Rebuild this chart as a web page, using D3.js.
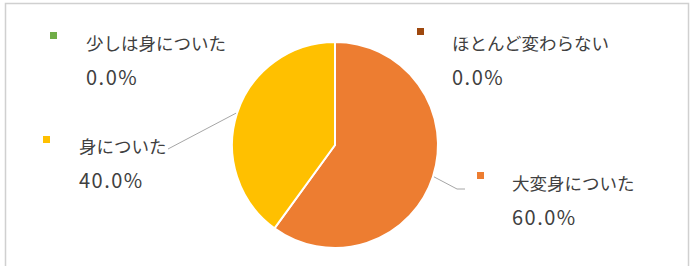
<!doctype html>
<html>
<head>
<meta charset="UTF-8" />
<style>
  html, body { margin: 0; padding: 0; background: #fff; }
  svg { display: block; font-family: "Noto Sans CJK JP", sans-serif; }
</style>
</head>
<body>
<svg id="chart" width="695" height="266"></svg>
<script src="https://cdn.jsdelivr.net/npm/d3@7"></script>
<script>
// data
const categories = ['大変身についた', '身についた', '少しは身についた', 'ほとんど変わらない'];
const values = [60, 40, 0, 0];
const colors = ['#ED7D31', '#FFC000', '#70AD47', '#9E480E'];

// label positions (callouts as in the original)
const labelPos = [
  { x: 512, y: 182, mx: 477, my: 172, line: true },
  { x: 79, y: 145, mx: 43, my: 136, line: true },
  { x: 86, y: 42, mx: 50, my: 32, line: false },
  { x: 452, y: 42, mx: 417, my: 28, line: false }
];

const svg = d3.select('#chart');

// chart frame
svg.append('rect')
  .attr('x', 5.5).attr('y', 3.5)
  .attr('width', 683).attr('height', 280)
  .attr('fill', 'none')
  .attr('stroke', '#d0d0d0')
  .attr('stroke-width', 1.5);

const cx = 335, cy = 145, r = 103;

const pie = d3.pie().sort(null).value(d => d)(values);
const arc = d3.arc().innerRadius(0).outerRadius(r);

const g = svg.append('g').attr('transform', `translate(${cx},${cy})`);

g.selectAll('path')
  .data(pie.filter(d => d.value > 0))
  .join('path')
  .attr('d', arc)
  .attr('fill', d => colors[d.index])
  .attr('stroke', '#fff')
  .attr('stroke-width', 2);

// leader lines
const total = d3.sum(values);
pie.forEach((d, i) => {
  const p = labelPos[i];
  if (!p.line) return;
  const mid = (d.startAngle + d.endAngle) / 2;
  const ex = cx + Math.sin(mid) * r, ey = cy - Math.cos(mid) * r;
  let pts;
  if (i === 0) pts = [[ex + 1, ey], [457, 189], [465, 189]];
  else pts = [[ex - 1, ey], [168, 149]];
  svg.append('path')
    .attr('d', d3.line()(pts))
    .attr('fill', 'none')
    .attr('stroke', '#a6a6a6')
    .attr('stroke-width', 1);
});

// labels
pie.forEach((d, i) => {
  const p = labelPos[i];
  svg.append('rect')
    .attr('x', p.mx).attr('y', p.my)
    .attr('width', 7).attr('height', 7)
    .attr('fill', colors[i]);
  svg.append('text')
    .attr('x', p.x).attr('y', p.y)
    .attr('dominant-baseline', 'central')
    .attr('fill', '#404040')
    .attr('font-size', 17.5)
    .text(categories[i]);
  svg.append('text')
    .attr('x', p.x).attr('y', p.y + 34)
    .attr('dominant-baseline', 'central')
    .attr('fill', '#404040')
    .attr('font-size', 20)
    .attr('letter-spacing', 1.5)
    .text(d3.format('.1f')(values[i] / total * 100) + '%');
});
</script>
</body>
</html>
